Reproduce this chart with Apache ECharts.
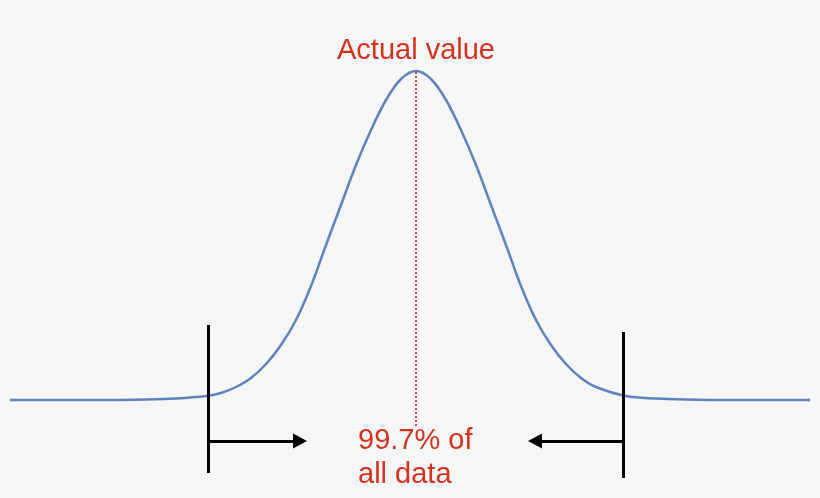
<!DOCTYPE html>
<html>
<head>
<meta charset="utf-8">
<script src="https://cdn.jsdelivr.net/npm/echarts@6/dist/echarts.min.js"></script>
<style>
    html, body { margin: 0; padding: 0; background: #f6f6f6; }
    #chart { width: 820px; height: 498px; }
</style>
</head>
<body>
<div id="chart"></div>
<script>
// curve: x position, height above the baseline
const curveX = [10, 100, 146, 176, 206, 221, 236, 251, 266, 281, 296, 311, 326, 341, 356, 371, 386, 401, 416,
    431, 446, 461, 476, 491, 506, 521, 536, 551, 566, 581, 596, 626, 656, 686, 730, 810];
const curveY = [0, 0, 0.5, 1.5, 4, 7, 13, 22, 36, 55, 80, 114, 155, 195, 235, 270, 300, 321, 329,
    321, 300, 270, 235, 195, 155, 114, 80, 55, 36, 22, 13, 4, 1.5, 0.5, 0, 0];

// the 99.7% bounds and the arrows
const bounds = [208, 623];
const boundTop = [75, 68];
const boundBottom = [-73, -78];
const arrowTips = [300, 535];
const arrowLevel = -41;

// actual value marker
const peakX = 416;
const peakTop = 328;
const peakBottom = -27;

const labelTop = 'Actual value';
const labelBottom = '99.7% of\nall data';

const chart = echarts.init(document.getElementById('chart'));

const red = '#d2321f';
const font = 'Liberation Sans, Arial, sans-serif';

chart.setOption({
    backgroundColor: '#f6f6f6',
    animation: false,
    grid: { left: 10, right: 10, top: 0, bottom: 0 },
    xAxis: { type: 'value', min: 10, max: 810, show: false },
    yAxis: { type: 'value', min: -98, max: 400, show: false },
    series: [
        {
            type: 'line',
            data: curveX.map((x, i) => [x, curveY[i]]),
            smooth: 0.35,
            symbol: 'none',
            lineStyle: { color: '#6183bd', width: 2.5 },
            markPoint: {
                silent: true,
                symbol: 'circle',
                symbolSize: 0,
                data: [
                    {
                        coord: [peakX, 349],
                        label: {
                            show: true,
                            position: 'inside',
                            formatter: labelTop,
                            color: red,
                            fontSize: 29,
                            fontFamily: font,
                            align: 'center',
                            verticalAlign: 'middle'
                        }
                    },
                    {
                        coord: [358, -58],
                        label: {
                            show: true,
                            position: 'inside',
                            formatter: labelBottom,
                            color: red,
                            fontSize: 29,
                            lineHeight: 34,
                            fontFamily: font,
                            align: 'left',
                            verticalAlign: 'middle'
                        }
                    }
                ]
            },
            z: 2
        },
        {
            // bounds
            type: 'line',
            data: [],
            markLine: {
                silent: true,
                symbol: 'none',
                label: { show: false },
                lineStyle: { color: '#000', width: 3, type: 'solid' },
                data: bounds.map((b, i) => [
                    { coord: [b, boundTop[i]] },
                    { coord: [b, boundBottom[i]] }
                ])
            },
            z: 3
        },
        {
            // arrows
            type: 'line',
            data: [],
            markLine: {
                silent: true,
                symbol: ['none', 'triangle'],
                symbolSize: [15, 14],
                label: { show: false },
                lineStyle: { color: '#000', width: 3, type: 'solid' },
                data: bounds.map((b, i) => [
                    { coord: [b, arrowLevel] },
                    { coord: [arrowTips[i], arrowLevel] }
                ])
            },
            z: 3
        },
        {
            // actual value
            type: 'line',
            data: [],
            markLine: {
                silent: true,
                symbol: 'none',
                label: { show: false },
                lineStyle: { color: '#d64a45', width: 2, type: [2, 2] },
                data: [[{ coord: [peakX, peakTop] }, { coord: [peakX, peakBottom] }]]
            },
            z: 1
        }
    ]
});
</script>
</body>
</html>
